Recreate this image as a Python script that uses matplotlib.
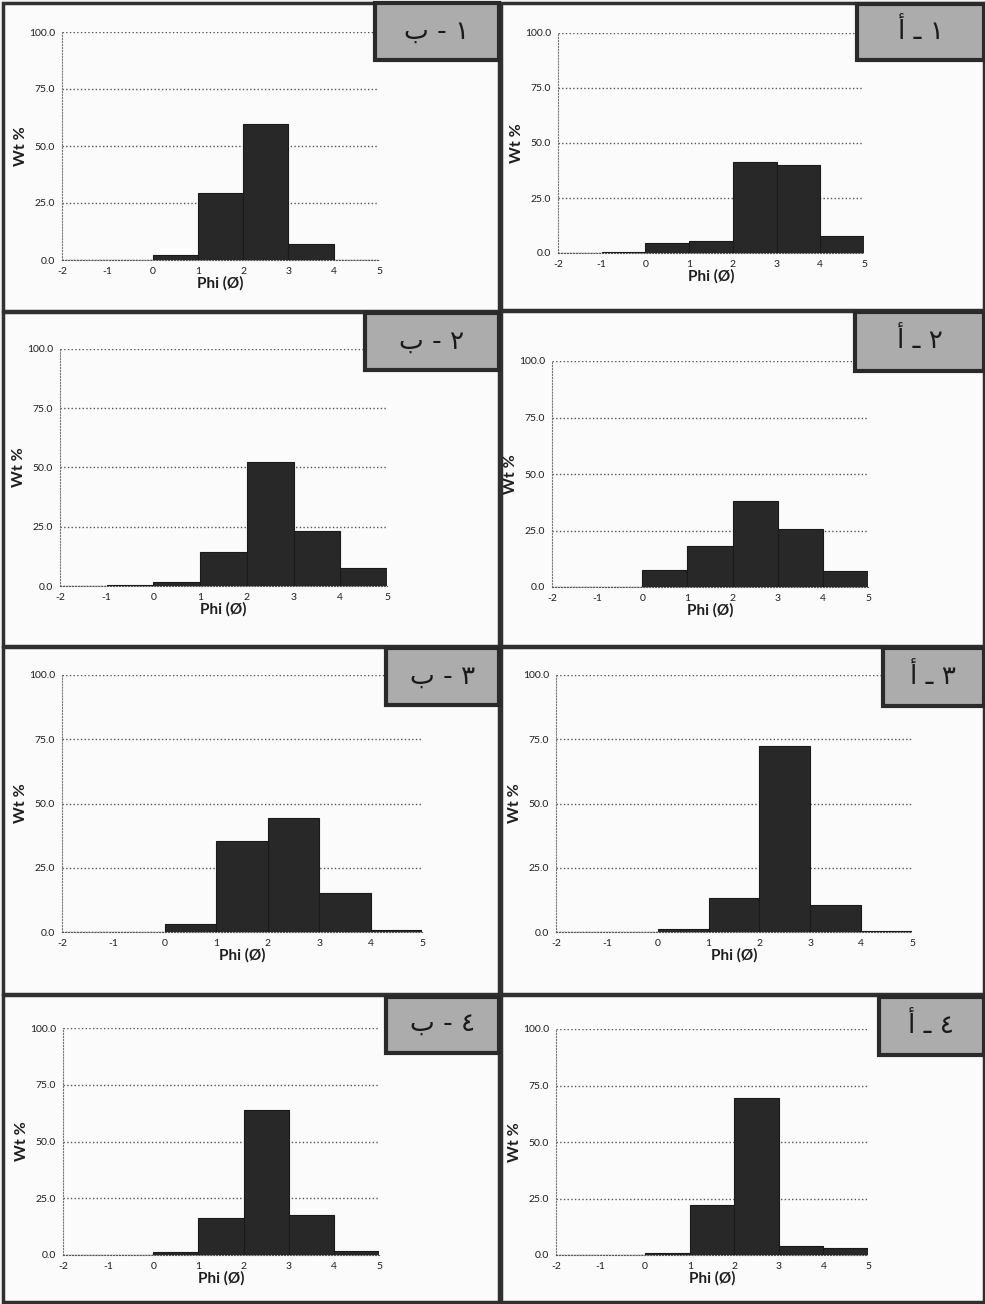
import matplotlib
matplotlib.use("Agg")
import matplotlib.pyplot as plt
from matplotlib.patches import Rectangle

plt.rcParams['font.family'] = ['Lato', 'DejaVu Sans']

W, H = 985, 1304

# phi class lower edges (bins of width 1)
bin_left = [-2, -1, 0, 1, 2, 3, 4]

# Wt % per class
p1b = [0, 0, 2.0, 29.5, 59.5, 6.8, 0]
p1a = [0, 0.5, 4.5, 5.5, 41.5, 40.0, 7.5]
p2b = [0, 0.6, 1.8, 14.4, 52.4, 23.2, 7.7]
p2a = [0, 0, 7.5, 18.2, 38.0, 25.6, 7.2]
p3b = [0, 0, 3.1, 35.6, 44.5, 15.3, 0.8]
p3a = [0, 0, 1.3, 13.4, 72.2, 10.6, 0.5]
p4b = [0, 0, 1.3, 16.4, 63.9, 17.8, 1.7]
p4a = [0, 0, 0.9, 22.2, 69.3, 4.1, 3.1]

x_ticks = [-2, -1, 0, 1, 2, 3, 4, 5]
y_ticks = [0, 25, 50, 75, 100]

digits = ['\u0661', '\u0662', '\u0663', '\u0664']
letter_b = '\u0628'
letter_a = '\u0623'


def frac(x0, y0, x1, y1):
    return [x0 / W, 1 - y1 / H, (x1 - x0) / W, (y1 - y0) / H]


fig = plt.figure(figsize=(W / 100, H / 100), dpi=100)
fig.patch.set_facecolor('#f3f3f3')

# panel frames  (x0, y0, x1, y1) in pixels
frames = [
    (3, 3, 499, 311), (501, 3, 984, 310),
    (3, 312, 499, 646), (501, 311, 984, 646),
    (3, 647, 499, 994), (501, 647, 984, 994),
    (3, 995, 499, 1302), (501, 995, 984, 1302),
]
# plot areas: x at -2, x at 5, y at 100, y at 0
areas = [
    (62, 379, 32, 260), (558, 864, 33, 253),
    (60, 387, 349, 586), (552, 868, 361, 587),
    (62, 422, 675, 932), (556, 912, 675, 932),
    (63, 379, 1028, 1255), (556, 868, 1029, 1255),
]
# label boxes
boxes = [
    (375, 3, 499, 60), (857, 4, 984, 60),
    (365, 313, 499, 370), (855, 312, 984, 371),
    (386, 648, 499, 705), (883, 648, 984, 706),
    (386, 997, 499, 1053), (879, 997, 984, 1055),
]
series = [p1b, p1a, p2b, p2a, p3b, p3a, p4b, p4a]

for i in range(8):
    fx0, fy0, fx1, fy1 = frames[i]
    fig.add_artist(Rectangle((fx0 / W, 1 - fy1 / H), (fx1 - fx0) / W, (fy1 - fy0) / H,
                             transform=fig.transFigure, facecolor='#fbfbfb',
                             edgecolor='#303030', lw=2.5, zorder=0))

    ax0, ax1, ay0, ay1 = areas[i]
    ax = fig.add_axes(frac(ax0, ay0, ax1, ay1))
    ax.set_facecolor('none')
    ax.bar(bin_left, series[i], width=1, align='edge', color='#282828',
           edgecolor='#1a1a1a', lw=0.8, zorder=3)
    ax.set_xlim(-2, 5)
    ax.set_ylim(0, 100)
    ax.set_xticks(x_ticks)
    ax.set_xticklabels([str(t) for t in x_ticks])
    ax.set_yticks(y_ticks)
    ax.set_yticklabels(['%.1f' % t for t in y_ticks])
    ax.tick_params(labelsize=7.5, length=0, pad=5, colors='#1e1e1e')
    ax.grid(axis='y', linestyle=':', color='#555555', lw=1.0)
    for s in ['top', 'right']:
        ax.spines[s].set_visible(False)
    ax.spines['left'].set_linestyle(':')
    ax.spines['left'].set_color('#777777')
    ax.spines['bottom'].set_linestyle(':')
    ax.spines['bottom'].set_color('#555555')
    ax.set_xlabel('Phi (\u00d8)', fontsize=11, fontweight='bold', labelpad=0, color='#1e1e1e')
    ax.set_ylabel('Wt %', fontsize=11.5, fontweight='bold', labelpad=1, color='#1e1e1e')

    bx0, by0, bx1, by1 = boxes[i]
    fig.add_artist(Rectangle((bx0 / W, 1 - by1 / H), (bx1 - bx0) / W, (by1 - by0) / H,
                             transform=fig.transFigure, facecolor='#acacac',
                             edgecolor='#2a2a2a', lw=3, zorder=5))
    row = i // 2
    if i % 2 == 0:
        lab = letter_b + ' - ' + digits[row]
    else:
        lab = letter_a + ' \u0640 ' + digits[row]
    fig.text((bx0 + bx1) / 2 / W, 1 - (by0 + by1) / 2 / H, lab,
             family=['DejaVu Sans'], fontsize=19, ha='center', va='center',
             color='#1a1a1a', zorder=6)

fig.savefig('out.png', dpi=100, facecolor=fig.get_facecolor())
